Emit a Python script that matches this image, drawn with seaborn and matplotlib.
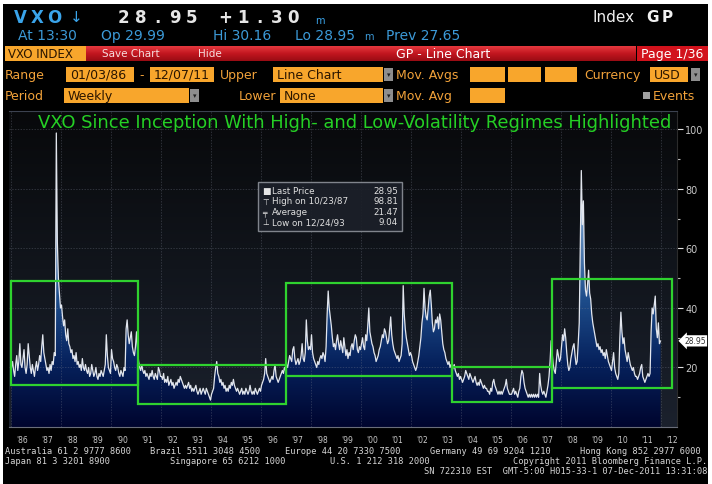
'''IMPORTS'''
import numpy as np
import matplotlib
matplotlib.use("Agg")
import matplotlib.pyplot as plt
from matplotlib.colors import LinearSegmentedColormap
from matplotlib.patches import Rectangle
from matplotlib.transforms import blended_transform_factory
import seaborn as sns

sns.set_style("dark")
plt.rcParams['font.family'] = ['DejaVu Sans']

'''DATA - VXO, two readings per month'''
vxo_1986 = [20, 22, 19, 17, 21, 24, 19, 22, 28, 21, 20, 23, 26, 20, 18, 21, 28, 24, 20, 18, 21, 19, 17, 20]
vxo_1987 = [22, 19, 21, 24, 22, 27, 31, 25, 23, 21, 19, 20, 18, 21, 19, 22, 21, 25, 24, 98.81, 62, 50, 45, 40]
vxo_1988 = [41, 37, 34, 36, 31, 29, 33, 28, 27, 25, 26, 23, 24, 22, 25, 21, 22, 20, 21, 19, 23, 20, 19, 21]
vxo_1989 = [19, 18, 20, 17, 18, 21, 19, 17, 18, 20, 17, 16, 18, 17, 19, 18, 17, 19, 21, 31, 24, 20, 19, 18]
vxo_1990 = [26, 23, 22, 20, 19, 21, 20, 18, 17, 19, 18, 17, 20, 19, 33, 36, 31, 28, 30, 32, 27, 25, 24, 27]
vxo_1991 = [32, 26, 22, 20, 19, 21, 19, 18, 19, 17, 18, 17, 16, 18, 17, 19, 17, 16, 18, 17, 16, 20, 19, 17]
vxo_1992 = [17, 16, 18, 15, 16, 15, 17, 14, 15, 16, 14, 15, 13, 14, 15, 14, 16, 15, 17, 16, 15, 14, 13, 14]
vxo_1993 = [13, 14, 15, 13, 14, 12, 13, 12, 13, 14, 12, 11, 12, 13, 11, 12, 13, 12, 11, 13, 12, 11, 10, 9.04]
vxo_1994 = [11, 12, 13, 17, 20, 22, 18, 17, 15, 16, 14, 15, 13, 14, 12, 13, 12, 14, 13, 15, 14, 16, 14, 13]
vxo_1995 = [12, 13, 12, 11, 12, 13, 11, 12, 11, 13, 12, 11, 12, 14, 12, 11, 12, 11, 13, 12, 11, 12, 13, 12]
vxo_1996 = [14, 15, 16, 18, 23, 18, 17, 16, 15, 16, 17, 16, 19, 21, 17, 16, 15, 16, 17, 18, 19, 18, 20, 19]
vxo_1997 = [21, 20, 22, 24, 23, 22, 26, 27, 23, 21, 22, 23, 21, 22, 24, 28, 23, 22, 25, 36, 29, 26, 27, 26]
vxo_1998 = [31, 25, 23, 22, 21, 20, 22, 21, 23, 24, 23, 25, 24, 22, 27, 38, 45.7, 40, 37, 34, 30, 27, 28, 26]
vxo_1999 = [29, 31, 28, 26, 29, 27, 25, 30, 27, 24, 26, 23, 25, 24, 27, 28, 26, 29, 31, 30, 26, 25, 27, 26]
vxo_2000 = [28, 30, 27, 26, 31, 29, 34, 40, 32, 30, 28, 27, 25, 24, 22, 23, 24, 26, 27, 29, 31, 30, 33, 32]
vxo_2001 = [30, 28, 29, 33, 37, 31, 28, 26, 25, 24, 23, 24, 22, 23, 24, 28, 47.5, 38, 33, 30, 28, 26, 24, 25]
vxo_2002 = [24, 22, 21, 20, 19, 20, 22, 24, 27, 30, 35, 38, 46.6, 40, 37, 36, 40, 44, 46, 41, 35, 32, 33, 36]
vxo_2003 = [35, 37, 33, 38, 36, 32, 28, 26, 25, 23, 22, 21, 22, 20, 21, 19, 20, 21, 19, 18, 17, 18, 16, 17]
vxo_2004 = [16, 15, 16, 17, 19, 18, 17, 16, 18, 17, 16, 15, 16, 17, 15, 14, 15, 14, 16, 15, 14, 13, 14, 13]
vxo_2005 = [13, 12, 12, 11, 13, 12, 15, 16, 14, 13, 12, 11, 12, 11, 12, 11, 12, 13, 14, 16, 13, 12, 11, 11]
vxo_2006 = [11, 12, 13, 11, 12, 11, 10, 12, 13, 17, 19, 18, 15, 13, 12, 11, 10, 11, 10, 11, 10, 11, 10, 11]
vxo_2007 = [10, 11, 10, 18, 14, 12, 11, 12, 11, 10, 12, 14, 17, 22, 29, 25, 21, 19, 18, 22, 26, 24, 22, 23]
vxo_2008 = [27, 31, 29, 33, 30, 25, 21, 19, 20, 23, 25, 27, 28, 24, 21, 22, 28, 35, 60, 86.2, 68, 76, 55, 46]
vxo_2009 = [44, 48, 52.7, 45, 43, 38, 35, 33, 31, 29, 27, 28, 26, 27, 25, 26, 24, 25, 23, 26, 24, 22, 21, 20]
vxo_2010 = [19, 22, 25, 20, 18, 17, 16, 18, 30, 38.6, 32, 28, 30, 26, 24, 22, 25, 23, 21, 20, 19, 20, 18, 17]
vxo_2011 = [17, 16, 17, 18, 20, 21, 17, 16, 15, 16, 17, 18, 17, 18, 32, 40, 38, 41, 44, 33, 30, 35, 28, 28.95]

vxo = (vxo_1986 + vxo_1987 + vxo_1988 + vxo_1989 + vxo_1990 + vxo_1991 + vxo_1992
       + vxo_1993 + vxo_1994 + vxo_1995 + vxo_1996 + vxo_1997 + vxo_1998 + vxo_1999
       + vxo_2000 + vxo_2001 + vxo_2002 + vxo_2003 + vxo_2004 + vxo_2005 + vxo_2006
       + vxo_2007 + vxo_2008 + vxo_2009 + vxo_2010 + vxo_2011)
t = 1986 + (np.arange(len(vxo)) + 0.5) / 24

# volatility regimes (green boxes)
regime_start = [1986.0, 1991.08, 1997.0, 2003.64, 2007.64]
regime_end = [1991.08, 1997.0, 2003.64, 2007.64, 2012.44]
regime_low = [14, 7.7, 17, 8.4, 13.1]
regime_high = [49, 21, 48.4, 20, 49.6]

years = list(range(1986, 2013))
year_labels = ["'%02d" % (y % 100) for y in years]
y_ticks = [20, 40, 60, 80, 100]

legend_names = ["Last Price", "High on 10/23/87", "Average", "Low on 12/24/93"]
legend_values = ["28.95", "98.81", "21.47", "9.04"]
legend_icons = ["\u25a0", "\u22a4", "\u2564", "\u22a5"]

'''FIGURE'''
W, H = 712, 485
fig = plt.figure(figsize=(7.12, 4.85), dpi=100, facecolor="white")

bg = fig.add_axes([0, 0, 1, 1], zorder=0)
bg.axis("off")
bg.add_patch(Rectangle((3, 5), 705, 480, fc="black", lw=0))

ORANGE = "#f2a23a"
BOXFILL = "#f8a62c"
DARK = "#2a1500"
BLUE = "#3c9ad8"
FOOT = "#d6d6d6"


def box(x0, y0, x1, y1, color, **kw):
    bg.add_patch(Rectangle((x0, y0), x1 - x0, y1 - y0, fc=color, lw=0, **kw))


def txt(x, y, s, **kw):
    bg.text(x, y, s, va="center", **kw)


def spaced(x, y, s, pitch, **kw):
    for i, ch in enumerate(s):
        if ch != " ":
            bg.text(x + pitch * i + pitch / 2, y, ch, ha="center", va="center", **kw)


def dropdown(x, y0, y1):
    box(x, y0 + 1, x + 9, y1 - 1, "#8e8e8e")
    txt(x + 4.5, (y0 + y1) / 2, "\u25be", ha="center", fontsize=5, color="#202020")


# row 1
spaced(12, 18, "VXO", 17, fontsize=12, fontweight="bold", color="#3aa4ea")
txt(70, 18, "\u2193", fontsize=11, color="#3aa4ea")
spaced(115, 18, "28.95 +1.30", 17, fontsize=12, fontweight="bold", color="#e6e6e6")
txt(315, 21, "m", fontsize=7, color="#3aa4ea")
txt(592, 18, "Index", fontsize=11, color="#f0f0f0")
spaced(645, 18, "GP", 15, fontsize=11, fontweight="bold", color="#f0f0f0")

# row 2
for s, x in [("At 13:30", 18), ("Op 29.99", 101), ("Hi 30.16", 213),
             ("Lo 28.95", 295), ("Prev 27.65", 386)]:
    txt(x, 36, s, fontsize=10, color=BLUE)
txt(364, 37, "m", fontsize=7, color=BLUE)

# row 3 - red bar
red = LinearSegmentedColormap.from_list("red", ["#e4383e", "#c2161f", "#9a0c14"])
bg.imshow(np.linspace(0, 1, 32).reshape(-1, 1), extent=[5, 636, 62, 47],
          cmap=red, aspect="auto", zorder=1)
box(5, 47, 86, 62, BOXFILL, zorder=2)
txt(8, 54.5, "VXO INDEX", fontsize=8.5, color=DARK, zorder=3)
txt(102, 54, "Save Chart", fontsize=7.5, color="#f6dede", zorder=3)
txt(198, 54, "Hide", fontsize=7.5, color="#f6dede", zorder=3)
txt(443, 54.5, "GP - Line Chart", fontsize=9, color="white", ha="center", zorder=3)
box(637, 47, 708, 62, "#d2121c", zorder=2)
txt(641, 54.5, "Page 1/36", fontsize=9, color="white", zorder=3)

# row 4
r4 = 75.5
txt(5, r4, "Range", fontsize=9, color=ORANGE)
box(66, 68, 134, 83, BOXFILL)
txt(70, r4, "01/03/86", fontsize=9, color=DARK)
txt(139, r4, "-", fontsize=9, color=ORANGE)
box(150, 68, 214, 83, BOXFILL)
txt(154, r4, "12/07/11", fontsize=9, color=DARK)
txt(220, r4, "Upper", fontsize=9, color=ORANGE)
box(273, 68, 383, 83, BOXFILL)
txt(277, r4, "Line Chart", fontsize=9, color=DARK)
dropdown(384, 68, 83)
txt(396, r4, "Mov. Avgs", fontsize=9, color=ORANGE)
for x0, x1 in [(470, 505), (508, 541), (545, 577)]:
    box(x0, 68, x1, 83, BOXFILL)
txt(584, r4, "Currency", fontsize=9, color=ORANGE)
box(650, 68, 688, 83, BOXFILL)
txt(654, r4, "USD", fontsize=9, color=DARK)
dropdown(691, 68, 83)

# row 5
r5 = 96.5
txt(5, r5, "Period", fontsize=9, color=ORANGE)
box(64, 89, 189, 104, BOXFILL)
txt(68, r5, "Weekly", fontsize=9, color=DARK)
dropdown(190, 89, 104)
txt(239, r5, "Lower", fontsize=9, color=ORANGE)
box(280, 89, 383, 104, BOXFILL)
txt(284, r5, "None", fontsize=9, color=DARK)
dropdown(384, 89, 104)
txt(396, r5, "Mov. Avg", fontsize=9, color=ORANGE)
box(470, 89, 505, 104, BOXFILL)
box(643, 93, 650, 100, "#a0a0a0")
txt(653, r5, "Events", fontsize=9, color=ORANGE)

# footer (phone numbers etc.)
mono = "DejaVu Sans Mono"
for s, x in [("Australia 61 2 9777 8600", 5), ("Brazil 5511 3048 4500", 150),
             ("Europe 44 20 7330 7500", 285), ("Germany 49 69 9204 1210", 430),
             ("Hong Kong 852 2977 6000", 580)]:
    txt(x, 451.5, s, fontsize=6.2, color=FOOT, family=mono)
txt(5, 461.5, "Japan 81 3 3201 8900", fontsize=6.2, color=FOOT, family=mono)
txt(170, 461.5, "Singapore 65 6212 1000", fontsize=6.2, color=FOOT, family=mono)
txt(330, 461.5, "U.S. 1 212 318 2000", fontsize=6.2, color=FOOT, family=mono)
txt(707, 461.5, "Copyright 2011 Bloomberg Finance L.P.", fontsize=6.2, color=FOOT,
    family=mono, ha="right")
txt(707, 471.5, "SN 722310 EST  GMT-5:00 H015-33-1 07-Dec-2011 13:31:08", fontsize=6.2,
    color=FOOT, family=mono, ha="right")

bg.set_xlim(0, W)
bg.set_ylim(H, 0)

'''MAIN CHART'''
ax = fig.add_axes([9 / W, (H - 428) / H, (677 - 9) / W, (428 - 112) / H], zorder=2)
x0, x1 = 1985.92, 2012.64
ymax = 106.2

back = LinearSegmentedColormap.from_list("back", ["#1b212d", "#11151c", "#08090b"])
ax.imshow(np.linspace(0, 1, 256).reshape(-1, 1), extent=[x0, x1, 0, ymax], origin="lower",
          cmap=back, aspect="auto", zorder=0)

poly = ax.fill_between(t, vxo, 0, facecolor="none", lw=0)
fill = LinearSegmentedColormap.from_list(
    "fill", [(0, "#00052e"), (0.2, "#06215c"), (0.4, "#1d4c8a"), (0.7, "#7aa3cf"), (1, "#c4d6ea")])
grad = ax.imshow(np.linspace(0, 1, 256).reshape(-1, 1), extent=[x0, x1, 0, ymax],
                 origin="lower", cmap=fill, aspect="auto", zorder=1)
grad.set_clip_path(poly.get_paths()[0], ax.transData)

for v in y_ticks:
    ax.axhline(v, color="#7a8090", lw=0.5, ls=(0, (2, 2)), alpha=0.45, zorder=2)
for yr in years[::2]:
    ax.axvline(yr, color="#7a8090", lw=0.5, ls=(0, (2, 2)), alpha=0.45, zorder=2)

sns.lineplot(x=t, y=vxo, ax=ax, color="#e2e6ee", lw=0.9, zorder=3)

for s, e, lo, hi in zip(regime_start, regime_end, regime_low, regime_high):
    ax.add_patch(Rectangle((s, lo), e - s, hi - lo, fill=False, ec="#2fd22f", lw=1.6, zorder=4))

ax.text(0.518, 0.965, "VXO Since Inception With High- and Low-Volatility Regimes Highlighted",
        transform=ax.transAxes, color="#25d025", fontsize=12.9, ha="center", va="center", zorder=5)

ax.set_xlim(x0, x1)
ax.set_ylim(0, ymax)
ax.grid(False)

# x axis: long ticks with labels to their right
ax.set_xticks(years)
ax.tick_params(axis="x", length=15, width=0.8, color="#8c8c8c", direction="out",
               labelbottom=False)
for yr, lab in zip(years, year_labels):
    ax.text(yr + 0.2, -0.04, lab, transform=ax.get_xaxis_transform(), color="#c8c8c8",
            fontsize=5.5, ha="left", va="center", clip_on=False)

# y axis on the right
ax.yaxis.tick_right()
ax.set_yticks(y_ticks)
ax.set_yticklabels([str(v) for v in y_ticks])
ax.set_yticks([10, 30, 50, 70, 90], minor=True)
ax.tick_params(axis="y", which="major", length=4, width=0.8, color="#e0e0e0",
               labelcolor="#c8c8c8", labelsize=7, pad=2)
ax.tick_params(axis="y", which="minor", length=2, width=0.8, color="#bcbcbc")
ax.set_xlabel("")
ax.set_ylabel("")

ax.spines["left"].set_visible(False)
ax.spines["top"].set_color("#3c4250")
ax.spines["bottom"].set_color("#6a6e7a")
ax.spines["right"].set_color("#2c2c2c")

ax.text(1.011, vxo[-1], "%.2f" % vxo[-1],
        transform=blended_transform_factory(ax.transAxes, ax.transData),
        fontsize=5.5, color="#303030", va="center", ha="left", zorder=6, clip_on=False,
        bbox=dict(boxstyle="larrow,pad=0.15", fc="white", ec="none"))

'''LEGEND OVERLAY'''
ov = fig.add_axes([0, 0, 1, 1], zorder=10)
ov.patch.set_alpha(0)
ov.axis("off")
ov.add_patch(Rectangle((258, 183), 144, 49, fc="#1c2029", ec="#8a8e96", lw=1, alpha=0.92))
for i, (icon, name, val) in enumerate(zip(legend_icons, legend_names, legend_values)):
    yy = 191.5 + i * 10.5
    ov.text(262, yy, icon, fontsize=6.5 if i == 0 else 5.5, color="#e6e6e6", va="center")
    ov.text(272, yy, name, fontsize=6.3, color="#e0e0e0", va="center")
    ov.text(398, yy, val, fontsize=6.3, color="#e0e0e0", va="center", ha="right")
ov.set_xlim(0, W)
ov.set_ylim(H, 0)

plt.savefig("out.png", dpi=100, facecolor="white")
